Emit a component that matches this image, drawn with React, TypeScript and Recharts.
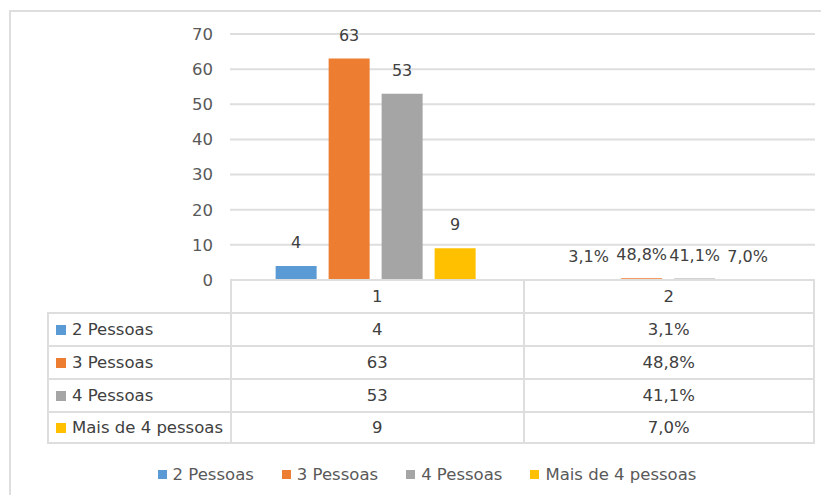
import React from "react";
import { BarChart, Bar, XAxis, YAxis, CartesianGrid, LabelList } from "recharts";

const categories = ["1", "2"];
const seriesNames = ["2 Pessoas", "3 Pessoas", "4 Pessoas", "Mais de 4 pessoas"];
const seriesColors = ["#5B9BD5", "#ED7D31", "#A5A5A5", "#FFC000"];
const twoPeople = [4, 0.031];
const threePeople = [63, 0.488];
const fourPeople = [53, 0.411];
const moreThanFour = [9, 0.07];
const yTicks = [0, 10, 20, 30, 40, 50, 60, 70];

const seriesValues = [twoPeople, threePeople, fourPeople, moreThanFour];
const keys = ["s0", "s1", "s2", "s3"];

const data = categories.map((cat, i) => {
  const row: any = { cat };
  keys.forEach((k, s) => (row[k] = seriesValues[s][i]));
  return row;
});

// second category holds shares, first holds counts
const fmtVal = (v: number, catIndex: number) =>
  catIndex === 1 ? (v * 100).toFixed(1).replace(".", ",") + "%" : String(v);

const FONT = "'DejaVu Sans', sans-serif";
const textGray = "#595959";
const lineGray = "#dedede";

const W = 829;
const H = 503;
const plotLeft = 230;
const plotRight = 815;
const plotTop = 34;
const plotBottom = 280;
const rowH = 33;

export default function App() {
  const colW = (plotRight - plotLeft) / categories.length;
  return (
    <div style={{ position: "relative", width: W, height: H, margin: -8, background: "#fff", fontFamily: FONT, overflow: "hidden" }}>
      {/* chart area border */}
      <div style={{ position: "absolute", left: 9, top: 10, width: W, height: H, borderLeft: `2px solid ${lineGray}`, borderTop: `2px solid ${lineGray}` }} />
      <div style={{ position: "absolute", left: 0, top: 0 }}>
        <BarChart
          width={W}
          height={H}
          data={data}
          margin={{ top: plotTop, right: W - plotRight, bottom: H - plotBottom, left: 0 }}
          barCategoryGap="15.6%"
          barGap={12}
        >
          <CartesianGrid horizontal vertical={false} stroke={lineGray} strokeWidth={2} />
          <XAxis dataKey="cat" hide />
          <YAxis
            domain={[0, 70]}
            ticks={yTicks}
            width={plotLeft}
            axisLine={false}
            tickLine={false}
            tickSize={0}
            tickMargin={17}
            tick={{ fill: textGray, fontSize: 16.5, fontFamily: FONT }}
          />
          {keys.map((k, s) => (
            <Bar key={k} dataKey={k} name={seriesNames[s]} fill={seriesColors[s]} isAnimationActive={false}>
              <LabelList
                dataKey={k}
                position="top"
                offset={18}
                fill="#404040"
                fontSize={16}
                fontFamily={FONT}
                formatter={(v: any) => fmtVal(Number(v), Number(v) < 1 ? 1 : 0)}
              />
            </Bar>
          ))}
        </BarChart>
      </div>

      {/* data table */}
      <div style={{ position: "absolute", left: 0, top: 0, fontSize: 16.5, color: "#404040" }}>
        {categories.map((c, ci) => (
          <div
            key={c}
            style={{
              position: "absolute",
              left: plotLeft + ci * colW,
              top: plotBottom - 1,
              width: colW,
              height: rowH,
              boxSizing: "border-box",
              borderTop: `2px solid ${lineGray}`,
              borderLeft: `2px solid ${lineGray}`,
              borderRight: ci === categories.length - 1 ? `2px solid ${lineGray}` : undefined,
              display: "flex",
              alignItems: "center",
              justifyContent: "center",
            }}
          >
            {c}
          </div>
        ))}
        {seriesNames.map((name, s) => (
          <React.Fragment key={name}>
            <div
              style={{
                position: "absolute",
                left: 47,
                top: plotBottom - 1 + rowH * (s + 1),
                width: plotLeft - 47,
                height: rowH,
                boxSizing: "border-box",
                borderTop: `2px solid ${lineGray}`,
                borderLeft: `2px solid ${lineGray}`,
                borderBottom: s === seriesNames.length - 1 ? `2px solid ${lineGray}` : undefined,
                display: "flex",
                alignItems: "center",
                paddingLeft: 7,
                whiteSpace: "nowrap",
              }}
            >
              <span style={{ display: "inline-block", width: 10, height: 10, background: seriesColors[s], marginRight: 6 }} />
              {name}
            </div>
            {categories.map((c, ci) => (
              <div
                key={c}
                style={{
                  position: "absolute",
                  left: plotLeft + ci * colW,
                  top: plotBottom - 1 + rowH * (s + 1),
                  width: colW,
                  height: rowH,
                  boxSizing: "border-box",
                  borderTop: `2px solid ${lineGray}`,
                  borderLeft: `2px solid ${lineGray}`,
                  borderRight: ci === categories.length - 1 ? `2px solid ${lineGray}` : undefined,
                  borderBottom: s === seriesNames.length - 1 ? `2px solid ${lineGray}` : undefined,
                  display: "flex",
                  alignItems: "center",
                  justifyContent: "center",
                }}
              >
                {fmtVal(seriesValues[s][ci], ci)}
              </div>
            ))}
          </React.Fragment>
        ))}
      </div>

      {/* legend */}
      <div
        style={{
          position: "absolute",
          left: 0,
          top: 465,
          width: W,
          display: "flex",
          justifyContent: "center",
          fontSize: 16.5,
          color: textGray,
          paddingLeft: 25,
          boxSizing: "border-box",
        }}
      >
        {seriesNames.map((name, s) => (
          <div key={name} style={{ display: "flex", alignItems: "center", marginRight: s < seriesNames.length - 1 ? 28 : 0, whiteSpace: "nowrap" }}>
            <span style={{ display: "inline-block", width: 9, height: 9, background: seriesColors[s], marginRight: 6 }} />
            {name}
          </div>
        ))}
      </div>
    </div>
  );
}
